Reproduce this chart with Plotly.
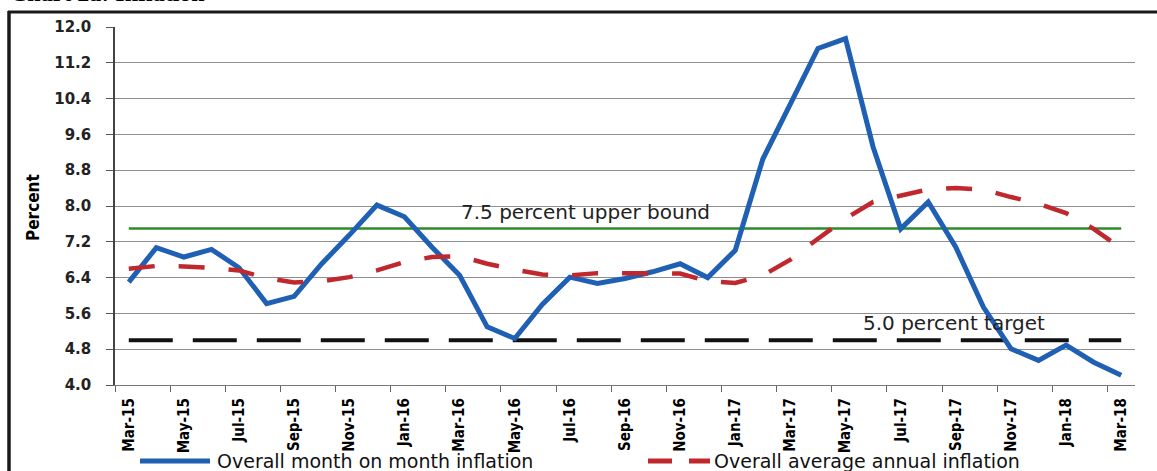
import plotly.graph_objects as go

# ---------------- data ----------------
months = ["Mar-15", "Apr-15", "May-15", "Jun-15", "Jul-15", "Aug-15", "Sep-15", "Oct-15",
          "Nov-15", "Dec-15", "Jan-16", "Feb-16", "Mar-16", "Apr-16", "May-16", "Jun-16",
          "Jul-16", "Aug-16", "Sep-16", "Oct-16", "Nov-16", "Dec-16", "Jan-17", "Feb-17",
          "Mar-17", "Apr-17", "May-17", "Jun-17", "Jul-17", "Aug-17", "Sep-17", "Oct-17",
          "Nov-17", "Dec-17", "Jan-18", "Feb-18", "Mar-18"]

month_on_month = [6.30, 7.07, 6.86, 7.03, 6.62, 5.82, 5.98, 6.71, 7.35, 8.02, 7.76, 7.08,
                  6.45, 5.30, 5.04, 5.80, 6.41, 6.27, 6.38, 6.53, 6.71, 6.40, 7.01, 9.05,
                  10.28, 11.52, 11.74, 9.32, 7.49, 8.09, 7.08, 5.74, 4.81, 4.55, 4.89, 4.51,
                  4.22]

annual_average = [6.60, 6.66, 6.65, 6.62, 6.56, 6.39, 6.29, 6.32, 6.41, 6.56, 6.75, 6.86,
                  6.88, 6.71, 6.58, 6.47, 6.45, 6.50, 6.50, 6.50, 6.49, 6.32, 6.28, 6.45,
                  6.80, 7.27, 7.72, 8.09, 8.22, 8.37, 8.40, 8.37, 8.20, 8.05, 7.84, 7.49,
                  7.05]

upper_bound = 7.5
target = 5.0

y_ticks = [4.0, 4.8, 5.6, 6.4, 7.2, 8.0, 8.8, 9.6, 10.4, 11.2, 12.0]

series_names = ["Overall month on month inflation", "Overall average annual inflation"]
upper_label = "7.5 percent upper bound"
target_label = "5.0 percent target"
y_title = "Percent"
chart_title = "Chart 2a: Inflation"

# ---------------- geometry helpers ----------------
W, H = 1157, 471
L, R, T, B = 115, 22, 27, 86
PW, PH = W - L - R, H - T - B


def px_x(px):
    return (px - L) / PW


def px_y(py):
    return (H - B - py) / PH


xs = list(range(len(months)))

fig = go.Figure()

# reference lines
fig.add_trace(go.Scatter(x=[xs[0], xs[-1]], y=[upper_bound, upper_bound], mode="lines",
                         line=dict(color="#2f8a2a", width=2.5), showlegend=False,
                         hoverinfo="skip"))
fig.add_trace(go.Scatter(x=[xs[0], xs[-1]], y=[target, target], mode="lines",
                         line=dict(color="#111111", width=4, dash="44px,20px"),
                         showlegend=False, hoverinfo="skip"))

# series
fig.add_trace(go.Scatter(x=xs, y=month_on_month, mode="lines", name=series_names[0],
                         line=dict(color="#1f5fb4", width=5), showlegend=False))
fig.add_trace(go.Scatter(x=xs, y=annual_average, mode="lines", name=series_names[1],
                         line=dict(color="#c0282d", width=4.5, dash="26px,24px"),
                         showlegend=False))

narrow = "Liberation Sans Narrow, DejaVu Sans Condensed, Arial Narrow, sans-serif"

fig.update_xaxes(
    range=[-0.5, len(months) - 0.5],
    tickmode="array",
    tickvals=xs[::2],
    ticktext=months[::2],
    tickangle=-90,
    ticks="",
    ticklabelstandoff=6,
    tickfont=dict(family=narrow, size=15, color="#000", weight="bold"),
    showgrid=False,
    showline=True,
    linecolor="#777",
    linewidth=1.2,
    zeroline=False,
    minor=dict(tickmode="linear", tick0=-0.5, dtick=2, ticks="outside", ticklen=6,
               tickcolor="#666", tickwidth=1.2, showgrid=False),
)

fig.update_yaxes(
    range=[y_ticks[0], y_ticks[-1]],
    tickmode="array",
    tickvals=y_ticks,
    ticktext=[f"{v:.1f}" for v in y_ticks],
    ticks="outside",
    ticklen=7,
    tickcolor="#555",
    tickwidth=1.2,
    ticklabelstandoff=12,
    tickfont=dict(family="DejaVu Sans", size=15, color="#222", weight="bold"),
    showgrid=True,
    gridcolor="#8f8f8f",
    gridwidth=1,
    showline=True,
    linecolor="#444",
    linewidth=1.5,
    zeroline=False,
)

annotations = [
    dict(x=px_x(585), y=upper_bound, xref="paper", yref="y", text=upper_label,
         showarrow=False, yshift=16, font=dict(family="DejaVu Sans", size=20, color="#222"),
         xanchor="center", yanchor="middle"),
    dict(x=px_x(954), y=target, xref="paper", yref="y", text=target_label,
         showarrow=False, yshift=17, font=dict(family="DejaVu Sans", size=20, color="#222"),
         xanchor="center", yanchor="middle"),
    dict(x=px_x(33), y=px_y(208), xref="paper", yref="paper", text=y_title,
         textangle=-90, showarrow=False,
         font=dict(family=narrow, size=17, color="#000", weight="bold"),
         xanchor="center", yanchor="middle"),
    dict(x=px_x(215), y=px_y(461), xref="paper", yref="paper", text=series_names[0],
         showarrow=False, font=dict(family="DejaVu Sans", size=19, color="#111"),
         xanchor="left", yanchor="middle"),
    dict(x=px_x(712), y=px_y(461), xref="paper", yref="paper", text=series_names[1],
         showarrow=False, font=dict(family="DejaVu Sans", size=19, color="#111"),
         xanchor="left", yanchor="middle"),
    dict(x=px_x(8), y=px_y(8), xref="paper", yref="paper", text=chart_title,
         showarrow=False, font=dict(family="Liberation Serif", size=24, color="#000",
                                    weight="bold"),
         xanchor="left", yanchor="bottom"),
]

shapes = [
    # legend symbols
    dict(type="line", xref="paper", yref="paper", x0=px_x(140), x1=px_x(210),
         y0=px_y(461), y1=px_y(461), line=dict(color="#1f5fb4", width=5)),
    dict(type="line", xref="paper", yref="paper", x0=px_x(648), x1=px_x(710),
         y0=px_y(461), y1=px_y(461), line=dict(color="#c0282d", width=5, dash="24px,17px")),
    # frame
    dict(type="line", xref="paper", yref="paper", x0=px_x(9), x1=px_x(9),
         y0=px_y(11), y1=px_y(471), line=dict(color="#1a1a1a", width=3.5)),
    dict(type="line", xref="paper", yref="paper", x0=px_x(8), x1=px_x(1157),
         y0=px_y(12), y1=px_y(12), line=dict(color="#1a1a1a", width=3)),
]

fig.update_layout(
    width=W, height=H,
    margin=dict(l=L, r=R, t=T, b=B, pad=0),
    paper_bgcolor="white",
    plot_bgcolor="white",
    showlegend=False,
    annotations=annotations,
    shapes=shapes,
)

fig.write_html(
    "out.html",
    config={"displayModeBar": False},
    post_script="document.body.style.margin='0';document.body.style.overflow='hidden';",
)
